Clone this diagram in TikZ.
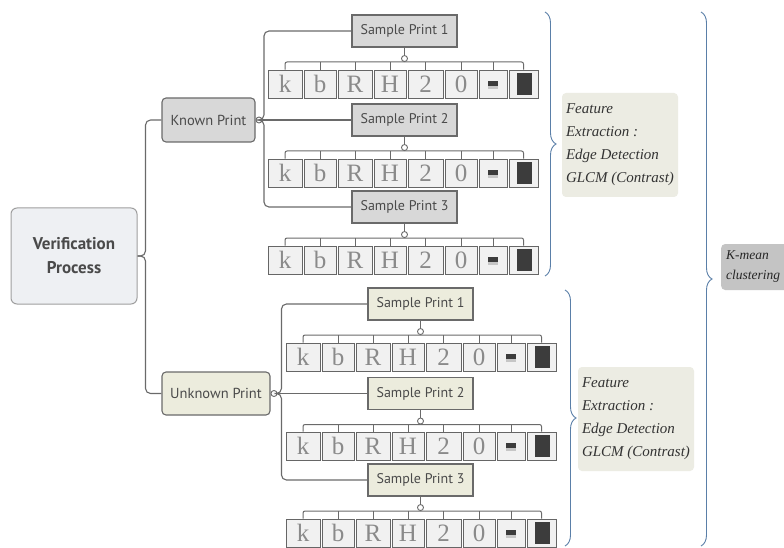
\documentclass[tikz,border=0pt]{standalone}
\usepackage{fontspec}
\setmainfont{Liberation Serif}
\newfontfamily\sansf{PT Sans}
\usetikzlibrary{decorations.pathreplacing}
\definecolor{lineg}{HTML}{6A6A6A}
\definecolor{vpfill}{HTML}{EEF0F3}
\definecolor{knownfill}{HTML}{D8D8D8}
\definecolor{unkfill}{HTML}{ECECDD}
\definecolor{featfill}{HTML}{ECECE3}
\definecolor{kmfill}{HTML}{C4C4C4}
\definecolor{textdark}{HTML}{4A4A4A}
\definecolor{charc}{HTML}{8A8A8A}
\definecolor{charfill}{HTML}{F1F1F1}
\definecolor{bracec}{HTML}{5A7FA8}
\definecolor{darkblk}{HTML}{3C3C3C}
\tikzset{
  conn/.style={draw=lineg, line width=1.1pt},
  vpbox/.style={draw=gray!75, fill=vpfill, rounded corners=6pt, line width=1pt,
    minimum width=126pt, minimum height=96pt, align=center,
    font=\sansf\bfseries\fontsize{17}{24}\selectfont, text=textdark},
  mainbox/.style={draw=lineg, rounded corners=4pt, line width=1.1pt,
    minimum height=44pt, font=\sansf\fontsize{14.5}{16}\selectfont, text=textdark},
  samplebox/.style={draw=lineg, line width=1.1pt, minimum width=105pt,
    minimum height=32pt, font=\sansf\fontsize{14}{16}\selectfont, text=textdark},
  charbox/.style={draw=gray!80!black, fill=charfill, line width=0.9pt, inner sep=0pt,
    minimum height=28pt, text=charc, font=\fontsize{25}{25}\selectfont},
  knob/.style={circle, draw=lineg, fill=white, line width=0.9pt, inner sep=0pt,
    minimum size=6pt},
  featbox/.style={fill=featfill, rounded corners=4pt, align=left,
    minimum width=116pt, minimum height=104pt, text=black!80,
    font=\itshape\fontsize{15}{23}\selectfont},
  kmbox/.style={fill=kmfill, rounded corners=4pt, align=left, inner xsep=5pt,
    text width=60pt, minimum height=46pt, text=black!85, anchor=west,
    font=\itshape\fontsize{13.5}{20}\selectfont},
  bracestyle/.style={draw=bracec, line width=0.9pt, decorate,
    decoration={brace, amplitude=11pt, aspect=0.5}}
}
\newcommand\charrow[4]{%
  \foreach \i/\off/\w/\t in {1/0/34/k,2/36/32/b,3/70/34/R,4/106/32/H,5/140/35/2,6/177/32/0,7/211/28/{},8/241/29/{}}{
    \node[charbox, minimum width=\w pt] (#1-\i) at ({#2+\off+\w/2},{#3+14}) {\t};
  }
  \fill[darkblk] ([xshift=-5pt,yshift=3pt]#1-7.center) rectangle ([xshift=5pt,yshift=-2pt]#1-7.center);
  \fill[gray!45] ([xshift=-5pt,yshift=-2pt]#1-7.center) rectangle ([xshift=5pt,yshift=-5pt]#1-7.center);
  \fill[darkblk] ([xshift=-6.5pt,yshift=11pt]#1-8.center) rectangle ([xshift=8.5pt,yshift=-11pt]#1-8.center);
  \draw[conn, line width=1pt, rounded corners=2pt] (#1-1.north) |- (#4.south) -| (#1-8.north);
  \foreach \i in {2,...,7}{\draw[conn, line width=1pt] (#1-\i.north) -- (#1-\i.north |- #4.south);}
}
\begin{document}
\begin{tikzpicture}[x=1pt,y=-1pt]
\clip (0,0) rectangle (784,548);
\fill[white] (0,0) rectangle (784,548);

% main nodes
\node[vpbox] (vp) at (74,256) {Verification\\Process};
\node[mainbox, fill=knownfill, minimum width=93pt] (kp) at (208.5,120) {Known Print};
\node[mainbox, fill=unkfill, minimum width=108pt, minimum height=43pt] (up) at (216,393.5) {Unknown Print};

\draw[conn, rounded corners=5pt] (vp.east) -- ++(8,0) |- (kp.west);
\draw[conn, rounded corners=5pt] (vp.east) -- ++(8,0) |- (up.west);

\node[knob] (kpc) at (259,120) {};
\node[knob] (upc) at (274,393.5) {};

% sample prints
\node[samplebox, fill=knownfill] (ks1) at (404.5,31) {Sample Print 1};
\node[samplebox, fill=knownfill] (ks2) at (404.5,120) {Sample Print 2};
\node[samplebox, fill=knownfill] (ks3) at (404.5,207) {Sample Print 3};
\node[samplebox, fill=unkfill] (us1) at (420.5,304) {Sample Print 1};
\node[samplebox, fill=unkfill] (us2) at (420.5,393.5) {Sample Print 2};
\node[samplebox, fill=unkfill] (us3) at (420.5,480) {Sample Print 3};

\draw[conn, rounded corners=5pt] (kpc.east) -- ++(1.5,0) |- (ks1.west);
\draw[conn] (kpc.east) -- (ks2.west);
\draw[conn, rounded corners=5pt] (kpc.east) -- ++(1.5,0) |- (ks3.west);
\draw[conn, rounded corners=5pt] (upc.east) -- ++(4,0) |- (us1.west);
\draw[conn] (upc.east) -- (us2.west);
\draw[conn, rounded corners=5pt] (upc.east) -- ++(4,0) |- (us3.west);

% knobs below sample prints
\foreach \s in {ks1,ks2,ks3,us1,us2,us3}{
  \node[knob] (\s k) at ([yshift=-11pt]\s.south) {};
  \draw[conn, line width=1pt] (\s.south) -- (\s k.north);
}

% character rows
\charrow{kr1}{268}{70}{ks1k}
\charrow{kr2}{268}{159}{ks2k}
\charrow{kr3}{268}{246}{ks3k}
\charrow{ur1}{286}{343}{us1k}
\charrow{ur2}{286}{432}{us2k}
\charrow{ur3}{286}{519}{us3k}

% braces
\coordinate (kbt) at (545,12);
\coordinate (kbb) at (545,276);
\coordinate (ubt) at (565,290);
\coordinate (ubb) at (565,546);
\coordinate (bbt) at (701,12);
\coordinate (bbb) at (701,546);
\draw[bracestyle] (kbt) -- (kbb);
\draw[bracestyle] (ubt) -- (ubb);
\draw[bracestyle] (bbt) -- (bbb);

% feature boxes
\node[featbox] (kf) at (620,145) {Feature\\Extraction :\\Edge Detection\\GLCM (Contrast)};
\node[featbox] (uf) at (636,419) {Feature\\Extraction :\\Edge Detection\\GLCM (Contrast)};
\node[kmbox] (km) at (721,267) {K-mean\\clustering};
\end{tikzpicture}
\end{document}
